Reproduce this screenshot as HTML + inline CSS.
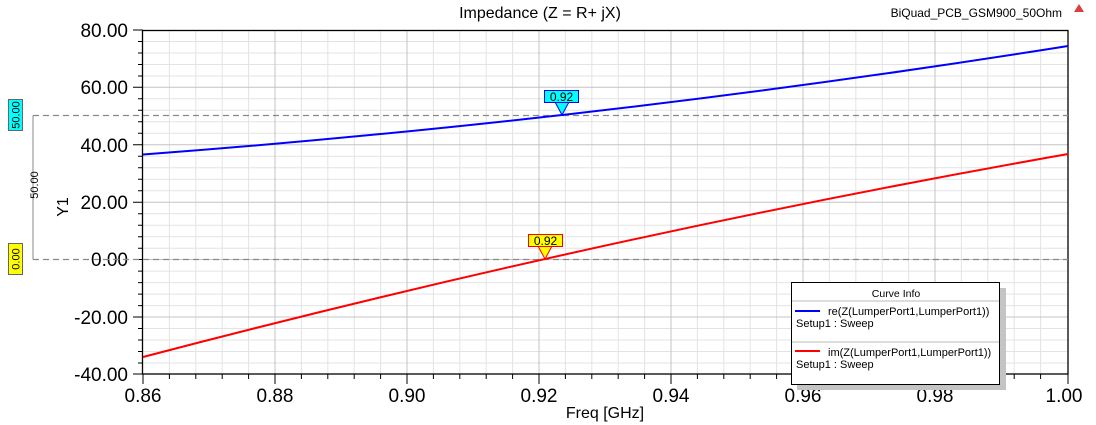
<!DOCTYPE html>
<html><head><meta charset="utf-8"><style>body{margin:0;background:#fff}svg{display:block;font-family:"Liberation Sans",Arial,sans-serif}</style></head><body>
<svg width="1096" height="425" viewBox="0 0 1096 425" xmlns="http://www.w3.org/2000/svg">
<rect width="1096" height="425" fill="#fff"/>
<g stroke="#e3e3e3" stroke-width="1">
<path d="M169.4 30V374M195.8 30V374M222.2 30V374M248.6 30V374M301.4 30V374M327.8 30V374M354.2 30V374M380.6 30V374M433.4 30V374M459.8 30V374M486.2 30V374M512.6 30V374M565.4 30V374M591.8 30V374M618.2 30V374M644.6 30V374M697.4 30V374M723.8 30V374M750.2 30V374M776.6 30V374M829.4 30V374M855.8 30V374M882.2 30V374M908.6 30V374M961.4 30V374M987.8 30V374M1014.2 30V374M1040.6 30V374"/>
<path d="M143 41.5H1068M143 53H1068M143 64.5H1068M143 76H1068M143 98.8H1068M143 110.3H1068M143 121.8H1068M143 133.3H1068M143 156.3H1068M143 167.8H1068M143 179.3H1068M143 190.8H1068M143 213.7H1068M143 225.2H1068M143 236.7H1068M143 248.2H1068M143 271.1H1068M143 282.6H1068M143 294.1H1068M143 305.6H1068M143 328.5H1068M143 340H1068M143 351.5H1068M143 363H1068"/>
</g>
<g stroke="#c4c4c4" stroke-width="1">
<path d="M275 30V374M407 30V374M539 30V374M671 30V374M803 30V374M935 30V374"/>
<path d="M143 87.3H1068M143 144.7H1068M143 202.2H1068M143 259.5H1068M143 317H1068"/>
</g>
<rect x="142.5" y="30.5" width="925.5" height="343.5" fill="none" stroke="#000" stroke-width="1.3"/>
<g stroke="#000" stroke-width="1">
<path d="M133 30H143M133 87.3H143M133 144.7H143M133 202.2H143M133 259.5H143M133 317H143M133 374H143"/>
<path d="M138 41.5H143M138 53H143M138 64.5H143M138 76H143M138 98.8H143M138 110.3H143M138 121.8H143M138 133.3H143M138 156.3H143M138 167.8H143M138 179.3H143M138 190.8H143M138 213.7H143M138 225.2H143M138 236.7H143M138 248.2H143M138 271.1H143M138 282.6H143M138 294.1H143M138 305.6H143M138 328.5H143M138 340H143M138 351.5H143M138 363H143"/>
<path d="M143 374V384M275 374V384M407 374V384M539 374V384M671 374V384M803 374V384M935 374V384M1068 374V384"/>
<path d="M169.4 374V379M195.8 374V379M222.2 374V379M248.6 374V379M301.4 374V379M327.8 374V379M354.2 374V379M380.6 374V379M433.4 374V379M459.8 374V379M486.2 374V379M512.6 374V379M565.4 374V379M591.8 374V379M618.2 374V379M644.6 374V379M697.4 374V379M723.8 374V379M750.2 374V379M776.6 374V379M829.4 374V379M855.8 374V379M882.2 374V379M908.6 374V379M961.4 374V379M987.8 374V379M1014.2 374V379M1040.6 374V379"/>
</g>
<g font-size="19" text-anchor="end" fill="#000">
<text x="128" y="37">80.00</text><text x="128" y="94">60.00</text><text x="128" y="152">40.00</text><text x="128" y="209">20.00</text><text x="128" y="266">0.00</text><text x="128" y="324">-20.00</text><text x="128" y="381">-40.00</text>
</g>
<g font-size="19" text-anchor="middle" fill="#000">
<text x="143" y="402">0.86</text><text x="275" y="402">0.88</text><text x="407" y="402">0.90</text><text x="539" y="402">0.92</text><text x="671" y="402">0.94</text><text x="803" y="402">0.96</text><text x="935" y="402">0.98</text><text x="1064" y="402">1.00</text>
</g>
<text x="605" y="418" font-size="16" text-anchor="middle">Freq [GHz]</text>
<text x="68" y="207" font-size="16" text-anchor="middle" transform="rotate(-90 68 207)">Y1</text>
<text x="540" y="18" font-size="16" text-anchor="middle">Impedance (Z = R+ jX)</text>
<text x="1062" y="17" font-size="12" text-anchor="end">BiQuad_PCB_GSM900_50Ohm</text>
<path d="M1074 12L1079 4L1084 12Z" fill="#d84040"/>
<g stroke="#888" stroke-width="1.2" stroke-dasharray="6,4">
<path d="M33 115.5H1068M33 259.5H1068"/>
</g>
<path d="M33 115.5V259.5" stroke="#888" stroke-width="1"/>
<rect x="8.5" y="99.5" width="14" height="31" fill="#00ffff" stroke="#666"/>
<text x="19.5" y="115" font-size="11" text-anchor="middle" transform="rotate(-90 19.5 115)">50.00</text>
<rect x="8.5" y="243.5" width="14" height="31" fill="#ffff00" stroke="#666"/>
<text x="19.5" y="259" font-size="11" text-anchor="middle" transform="rotate(-90 19.5 259)">0.00</text>
<text x="38" y="185" font-size="11" text-anchor="middle" transform="rotate(-90 38 185)">50.00</text>
<path d="M143 154.5Q605.5 119.7 1068 46" fill="none" stroke="#0000ff" stroke-width="2"/>
<path d="M143 357Q605.5 235.6 1068 154" fill="none" stroke="#ff0000" stroke-width="2"/>
<path d="M555 102L562 115L569 102Z" fill="#00ffff" stroke="#0000ff"/>
<rect x="544.5" y="90.5" width="34" height="12" fill="#00ffff" stroke="#0000ff"/>
<text x="561.5" y="101" font-size="12" text-anchor="middle">0.92</text>
<path d="M538 246L545 259L552 246Z" fill="#ffff00" stroke="#ff0000"/>
<rect x="528.5" y="234.5" width="34" height="12" fill="#ffff00" stroke="#ff0000"/>
<text x="545.5" y="245" font-size="12" text-anchor="middle">0.92</text>
<rect x="797" y="288" width="209" height="102" fill="#c4c4c4"/>
<rect x="791.5" y="282.5" width="208" height="102" fill="#fff" stroke="#000"/>
<text x="896" y="297" font-size="10.5" text-anchor="middle">Curve Info</text>
<path d="M792 301H999M792 342H999" stroke="#bbb"/>
<path d="M795 311H820" stroke="#0000ff" stroke-width="2"/>
<text x="828" y="315" font-size="11">re(Z(LumperPort1,LumperPort1))</text>
<text x="796" y="327" font-size="11">Setup1 : Sweep</text>
<path d="M795 351H820" stroke="#ff0000" stroke-width="2"/>
<text x="828" y="356" font-size="11">im(Z(LumperPort1,LumperPort1))</text>
<text x="796" y="368" font-size="11">Setup1 : Sweep</text>
</svg>
</body></html>
